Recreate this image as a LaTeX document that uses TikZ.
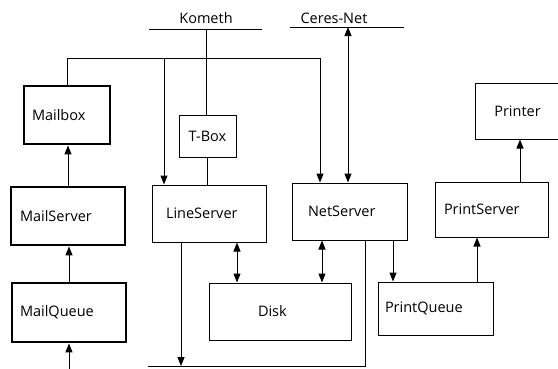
\documentclass[tikz,border=0pt]{standalone}
\usepackage{fontspec}
\setmainfont{Open Sans}
\usetikzlibrary{arrows.meta}
\begin{document}
\begin{tikzpicture}[x=1pt,y=-1pt,
  font=\fontsize{14.5}{16}\selectfont,
  box/.style={draw, line width=1pt, inner ysep=0pt, align=left},
  thickbox/.style={box, line width=2.8pt},
  conn/.style={line width=1pt},
  arr/.style={conn, -{Triangle[length=9pt, width=7pt]}},
  darr/.style={conn, {Triangle[length=9pt, width=7pt]}-{Triangle[length=9pt, width=7pt]}},
  buslabel/.style={inner sep=0pt}
]
\useasboundingbox (0,0) rectangle (558,368);

% nodes
\node[thickbox, minimum height=58pt, text width=70pt, inner xsep=8pt] (mailbox) at (67,115) {Mailbox};
\node[thickbox, minimum height=58pt, text width=96pt, inner xsep=9pt] (mailserver) at (68,216) {MailServer};
\node[thickbox, minimum height=59pt, text width=98pt, inner xsep=8pt] (mailqueue) at (69,312.5) {MailQueue};
\node[box, minimum height=42pt, text width=45pt, inner xsep=6pt, align=center] (tbox) at (207.5,136) {T-Box};
\node[box, minimum height=57pt, text width=86pt, inner xsep=14pt] (lineserver) at (209,213.5) {LineServer};
\node[box, minimum height=57pt, text width=83pt, inner xsep=16pt] (netserver) at (349.5,211.5) {NetServer};
\node[box, minimum height=55pt, text width=95pt, inner xsep=9pt] (printserver) at (491.5,209.5) {PrintServer};
\node[box, minimum height=56pt, text width=73pt, inner xsep=6pt, align=center] (printer) at (517.5,111) {Printer};
\node[box, minimum height=57pt, text width=44pt, inner xsep=49pt] (disk) at (280,311.5) {Disk};
\node[box, minimum height=53pt, text width=101pt, inner xsep=7pt] (printqueue) at (435.5,308.5) {PrintQueue};

\node[buslabel] (kometh) at (206,18) {Kometh};
\node[buslabel] (ceres) at (334,18) {Ceres-Net};

% bus lines
\coordinate (kL) at (149,29);
\coordinate (kR) at (262,29);
\coordinate (kM) at (206,29);
\coordinate (cL) at (290,27);
\coordinate (cR) at (404,27);
\coordinate (cM) at (348,27);
\draw[conn] (kL) -- (kR);
\draw[conn] (cL) -- (cR);

% top distribution line
\coordinate (tb) at (320,58);
\coordinate (br) at (164,58);
\draw[arr] (mailbox.north) |- (tb) -- (tb |- netserver.north);
\draw[arr] (br) -- (br |- lineserver.north);

% Kometh - T-Box - LineServer
\draw[conn] (kM) -- (kM |- tbox.north);
\draw[conn] (tbox.south) -- (tbox.south |- lineserver.north);

% Ceres-Net <-> NetServer
\draw[darr] (cM) -- (cM |- netserver.north);

% mail column
\draw[arr] (mailqueue.north) -- (mailqueue.north |- mailserver.south);
\draw[arr] (mailserver.north) -- (mailserver.north |- mailbox.south);
\coordinate (mqin) at (69,372);
\draw[arr] (mqin) -- (mqin |- mailqueue.south);

% disk connections
\coordinate (ld) at (237,0);
\coordinate (nd) at (322,0);
\draw[darr] (ld |- lineserver.south) -- (ld |- disk.north);
\draw[darr] (nd |- netserver.south) -- (nd |- disk.north);

% bottom line
\coordinate (lsout) at (181,0);
\coordinate (nsout) at (365,0);
\coordinate (bl) at (148,366);
\draw[arr] (lsout |- lineserver.south) -- (lsout |- bl);
\draw[conn] (nsout |- netserver.south) |- (bl);

% printing
\coordinate (np) at (393,0);
\coordinate (pp) at (477,0);
\coordinate (ps) at (520,0);
\draw[arr] (np |- netserver.south) -- (np |- printqueue.north);
\draw[arr] (pp |- printqueue.north) -- (pp |- printserver.south);
\draw[arr] (ps |- printserver.north) -- (ps |- printer.south);
\end{tikzpicture}
\end{document}
